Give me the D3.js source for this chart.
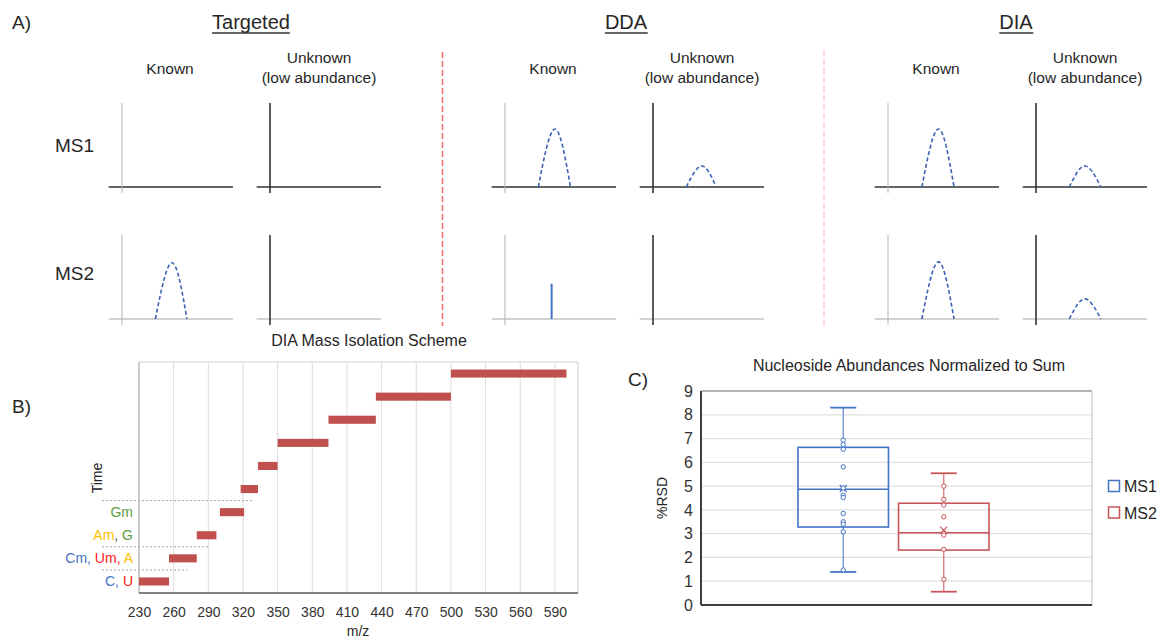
<!DOCTYPE html>
<html><head><meta charset="utf-8">
<script src="https://cdn.jsdelivr.net/npm/d3@7"></script>
<style>
body{margin:0;background:#fff}
svg{display:block}
text{font-family:"Liberation Sans",Arial,sans-serif;fill:#262626}
</style>
</head><body>
<svg id="chart" width="1160" height="641"></svg>
<script>
// ---------------- DATA ----------------
// Panel A: conceptual acquisition comparison
const methods = ["Targeted", "DDA", "DIA"];
const conditions = ["Known", "Unknown"];
const conditionLabels = [["Known"], ["Unknown", "(low abundance)"]];
const levels = ["MS1", "MS2"];
// peaks in arbitrary units (x: 0–10 m/z-like, y: 0–10 intensity)
const peaks = [
  {method: "DDA", level: "MS1", cond: "Known", start: 3.0, apex: 4.5, end: 5.9, height: 6.9},
  {method: "DDA", level: "MS1", cond: "Unknown", start: 3.0, apex: 4.4, end: 5.7, height: 2.5},
  {method: "DIA", level: "MS1", cond: "Known", start: 3.05, apex: 4.55, end: 5.95, height: 6.9},
  {method: "DIA", level: "MS1", cond: "Unknown", start: 3.0, apex: 4.4, end: 5.85, height: 2.5},
  {method: "Targeted", level: "MS2", cond: "Known", start: 3.0, apex: 4.5, end: 5.85, height: 6.7},
  {method: "DIA", level: "MS2", cond: "Known", start: 3.05, apex: 4.55, end: 5.95, height: 6.8},
  {method: "DIA", level: "MS2", cond: "Unknown", start: 3.0, apex: 4.4, end: 5.85, height: 2.4}
];
const sticks = [
  {method: "DDA", level: "MS2", cond: "Known", x: 4.2, height: 4.2}
];

// Panel B: DIA mass isolation scheme
const mzTicks = [230, 260, 290, 320, 350, 380, 410, 440, 470, 500, 530, 560, 590];
const isoStart = [230, 256, 280, 300, 318, 333, 350, 394, 435, 500];
const isoEnd   = [256, 280, 297, 321, 333, 350, 394, 435, 500, 600];
// elution-window labels: [text, nucleoside class]
const elutionLabels = [
  [["C", "C"], [", ", "C"], ["U", "U"]],
  [["Cm", "C"], [", ", "C"], ["Um", "U"], [", ", "U"], ["A", "A"]],
  [["Am", "A"], [", ", "-"], ["G", "G"]],
  [["Gm", "G"]]
];
const separatorAfter = [0, 1, 3];
const separatorEndMz = [272, 291, 328];

// Panel C: %RSD box plots
const groups = ["MS1", "MS2"];
const rsdTicks = [0, 1, 2, 3, 4, 5, 6, 7, 8, 9];
const ms1Values = [6.93, 6.75, 6.55, 5.81, 4.92, 4.62, 4.52, 3.85, 3.5, 3.4, 3.08, 1.47];
const ms2Values = [5.0, 4.44, 4.2, 3.71, 3.01, 2.94, 2.34, 1.08];
const ms1Stats = [1.39, 3.28, 4.87, 6.63, 8.30]; // min, q1, median, q3, max
const ms2Stats = [0.56, 2.31, 3.04, 4.28, 5.54];
const groupMeans = [4.9, 3.15];

// ---------------- DRAW ----------------
const svg = d3.select("#chart");

// ===== Panel A =====
const colX0 = [122, 270];     // vertical axis positions for Known / Unknown (Targeted)
const methodDX = 383;
const rowY0 = [187, 319];     // baseline positions for MS1 / MS2
const miniW = 111, miniH = 84;
const titleX = [251, 626, 1016];
const peakColor = "#3a62b5";

svg.append("text").attr("x", 12).attr("y", 29).style("font-size", "19px").text("A)");

methods.forEach((m, mi) => {
  const t = svg.append("text").attr("x", titleX[mi]).attr("y", 29)
    .attr("text-anchor", "middle").style("font-size", "20px").text(m);
  const bb = t.node().getBBox();
  svg.append("line").attr("x1", bb.x).attr("x2", bb.x + bb.width)
    .attr("y1", 33).attr("y2", 33).attr("stroke", "#333").attr("stroke-width", 1.5);

  conditions.forEach((c, ci) => {
    const ox = colX0[ci] + mi * methodDX;
    const lab = conditionLabels[ci];
    if (lab.length === 1) {
      svg.append("text").attr("x", ox + 48).attr("y", 74).attr("text-anchor", "middle")
        .style("font-size", "15.5px").text(lab[0]);
    } else {
      lab.forEach((l, li) => svg.append("text").attr("x", ox + 49).attr("y", 63 + li * 20)
        .attr("text-anchor", "middle").style("font-size", "15.5px").text(l));
    }

    levels.forEach((lv, li) => {
      const oy = rowY0[li];
      const x = d3.scaleLinear().domain([0, 10]).range([ox, ox + miniW]);
      const y = d3.scaleLinear().domain([0, 10]).range([oy, oy - miniH]);
      const g = svg.append("g");
      g.append("line").attr("x1", x(-1.2)).attr("x2", x(10)).attr("y1", y(0)).attr("y2", y(0))
        .attr("stroke", li === 0 ? "#333" : "#a6a6a6").attr("stroke-width", li === 0 ? 1.5 : 1);
      g.append("line").attr("x1", x(0)).attr("x2", x(0)).attr("y1", y(10)).attr("y2", y(-0.7))
        .attr("stroke", ci === 0 ? "#b3b3b3" : "#333").attr("stroke-width", ci === 0 ? 1 : 1.6);

      peaks.filter(p => p.method === m && p.level === lv && p.cond === c).forEach(p => {
        const line = d3.line().x(d => x(d[0])).y(d => y(d[1])).curve(d3.curveNatural);
        g.append("path").attr("d", line([[p.start, 0], [p.apex, p.height], [p.end, 0]]))
          .attr("fill", "none").attr("stroke", peakColor).attr("stroke-width", 1.6)
          .attr("stroke-dasharray", "4,2.5");
      });
      sticks.filter(s => s.method === m && s.level === lv && s.cond === c).forEach(s => {
        g.append("line").attr("x1", x(s.x)).attr("x2", x(s.x)).attr("y1", y(0)).attr("y2", y(s.height))
          .attr("stroke", "#4472c4").attr("stroke-width", 2);
      });
    });
  });
});

levels.forEach((lv, li) => {
  svg.append("text").attr("x", 55).attr("y", li === 0 ? 152 : 280).style("font-size", "19px").text(lv);
});

svg.append("line").attr("x1", 442.5).attr("x2", 442.5).attr("y1", 52).attr("y2", 326)
  .attr("stroke", "#ff6b6b").attr("stroke-width", 1.5).attr("stroke-dasharray", "6,3");
svg.append("line").attr("x1", 824).attr("x2", 824).attr("y1", 50).attr("y2", 326)
  .attr("stroke", "#ffc4c4").attr("stroke-width", 1.2).attr("stroke-dasharray", "6,3");

// ===== Panel B =====
const bL = 139, bR = 578, bT = 362, bB = 593;
const bx = d3.scaleLinear().domain([230, 610]).range([bL, bR]);
const by = d3.scaleBand().domain(d3.range(isoStart.length)).range([bB, bT])
  .paddingInner(0.65).paddingOuter(0.325);
const classColor = {C: "#4472c4", U: "#ff1a1a", A: "#ffc000", G: "#5e9e3e", "-": "#555"};

svg.append("text").attr("x", 12).attr("y", 413).style("font-size", "19px").text("B)");
svg.append("text").attr("x", 369).attr("y", 346).attr("text-anchor", "middle")
  .style("font-size", "16px").text("DIA Mass Isolation Scheme");

svg.append("g").selectAll("line").data(mzTicks.slice(1)).join("line")
  .attr("x1", d => bx(d)).attr("x2", d => bx(d)).attr("y1", bT).attr("y2", bB)
  .attr("stroke", "#dcdcdc").attr("stroke-width", 1);
svg.append("line").attr("x1", bL).attr("x2", bR).attr("y1", bT).attr("y2", bT).attr("stroke", "#d0d0d0");
svg.append("line").attr("x1", bR).attr("x2", bR).attr("y1", bT).attr("y2", bB).attr("stroke", "#d0d0d0");
svg.append("line").attr("x1", bL).attr("x2", bL).attr("y1", bT).attr("y2", bB).attr("stroke", "#bdbdbd").attr("stroke-width", 1.5);

const bAxis = svg.append("g").attr("transform", `translate(0,${bB})`)
  .call(d3.axisBottom(bx).tickValues(mzTicks).tickSize(0).tickPadding(14));
bAxis.select(".domain").remove();
bAxis.selectAll("text").style("font-size", "14px").style("fill", "#333")
  .style("font-family", '"Liberation Sans",Arial,sans-serif');
svg.append("line").attr("x1", bL).attr("x2", bR).attr("y1", bB).attr("y2", bB)
  .attr("stroke", "#595959").attr("stroke-width", 1.5);

svg.append("g").selectAll("rect").data(isoStart).join("rect")
  .attr("x", (d, i) => bx(d)).attr("width", (d, i) => bx(isoEnd[i]) - bx(d))
  .attr("y", (d, i) => by(i)).attr("height", by.bandwidth())
  .attr("fill", "#c0504d");

elutionLabels.forEach((parts, i) => {
  const t = svg.append("text").attr("x", bL - 6).attr("y", by(i) + by.bandwidth() / 2 + 5)
    .attr("text-anchor", "end").style("font-size", "14px");
  parts.forEach(p => t.append("tspan").text(p[0]).style("fill", classColor[p[1]]));
});

const step = by.step();
separatorAfter.forEach((b, k) => {
  const yy = by(b) - (step - by.bandwidth()) / 2;
  svg.append("line").attr("x1", bL - 37).attr("x2", bx(separatorEndMz[k]))
    .attr("y1", yy).attr("y2", yy).attr("stroke", "#a6a6a6").attr("stroke-width", 1)
    .attr("stroke-dasharray", "2,2");
});

svg.append("text").attr("transform", "translate(102,478) rotate(-90)").attr("text-anchor", "middle")
  .style("font-size", "14px").text("Time");
svg.append("text").attr("x", 358).attr("y", 636).attr("text-anchor", "middle")
  .style("font-size", "14px").text("m/z");

// ===== Panel C =====
const cL = 701, cR = 1092, cT = 391, cB = 605;
const cy = d3.scaleLinear().domain([0, 9]).range([cB, cT]);
const cx = d3.scaleBand().domain(groups).range([798, 989]).paddingInner(0.1);
const groupColor = {MS1: "#4472c4", MS2: "#c9555a"};
const groupValues = [ms1Values, ms2Values];
const groupStats = [ms1Stats, ms2Stats];

svg.append("text").attr("x", 628).attr("y", 386).style("font-size", "19px").text("C)");
svg.append("text").attr("x", 909).attr("y", 371).attr("text-anchor", "middle")
  .style("font-size", "16px").text("Nucleoside Abundances Normalized to Sum");

svg.append("g").selectAll("line").data(rsdTicks.slice(1, -1)).join("line")
  .attr("x1", cL).attr("x2", cR).attr("y1", d => cy(d)).attr("y2", d => cy(d))
  .attr("stroke", "#e0e0e0").attr("stroke-width", 1.2);
svg.append("line").attr("x1", cL).attr("x2", cR).attr("y1", cT).attr("y2", cT).attr("stroke", "#9a9a9a").attr("stroke-width", 1.5);
svg.append("line").attr("x1", cR).attr("x2", cR).attr("y1", cT).attr("y2", cB).attr("stroke", "#c8c8c8").attr("stroke-width", 1.2);

const cAxis = svg.append("g").attr("transform", `translate(${cL},0)`)
  .call(d3.axisLeft(cy).tickValues(rsdTicks).tickSize(0).tickPadding(8));
cAxis.select(".domain").remove();
cAxis.selectAll("text").style("font-size", "16px").style("fill", "#333")
  .style("font-family", '"Liberation Sans",Arial,sans-serif');
svg.append("line").attr("x1", cL).attr("x2", cL).attr("y1", cT).attr("y2", cB).attr("stroke", "#404040").attr("stroke-width", 2);
svg.append("line").attr("x1", cL).attr("x2", cR).attr("y1", cB).attr("y2", cB).attr("stroke", "#404040").attr("stroke-width", 2);

svg.append("text").attr("transform", "translate(667,498) rotate(-90)").attr("text-anchor", "middle")
  .style("font-size", "14px").text("%RSD");

groups.forEach((gname, gi) => {
  const col = groupColor[gname];
  const s = groupStats[gi];
  const x0 = cx(gname), bw = cx.bandwidth(), xc = x0 + bw / 2;
  const g = svg.append("g");
  g.append("line").attr("x1", xc).attr("x2", xc).attr("y1", cy(s[3])).attr("y2", cy(s[4]))
    .attr("stroke", col).attr("stroke-width", 1.2).attr("opacity", 0.85);
  g.append("line").attr("x1", xc).attr("x2", xc).attr("y1", cy(s[1])).attr("y2", cy(s[0]))
    .attr("stroke", col).attr("stroke-width", 1.2).attr("opacity", 0.85);
  [s[0], s[4]].forEach(v => g.append("line").attr("x1", xc - 13).attr("x2", xc + 13)
    .attr("y1", cy(v)).attr("y2", cy(v)).attr("stroke", col).attr("stroke-width", 1.8));
  g.append("rect").attr("x", x0).attr("width", bw).attr("y", cy(s[3])).attr("height", cy(s[1]) - cy(s[3]))
    .attr("fill", "none").attr("stroke", col).attr("stroke-width", 1.6);
  g.append("line").attr("x1", x0).attr("x2", x0 + bw).attr("y1", cy(s[2])).attr("y2", cy(s[2]))
    .attr("stroke", col).attr("stroke-width", 1.6);
  const my = cy(groupMeans[gi]);
  g.append("path").attr("d", `M${xc - 3.5},${my - 3.5}L${xc + 3.5},${my + 3.5}M${xc + 3.5},${my - 3.5}L${xc - 3.5},${my + 3.5}`)
    .attr("stroke", col).attr("stroke-width", 1.2);
  g.selectAll("circle").data(groupValues[gi]).join("circle")
    .attr("cx", xc).attr("cy", d => cy(d)).attr("r", 2.2)
    .attr("fill", "#fff").attr("stroke", col).attr("stroke-width", 1);
});

groups.forEach((gname, gi) => {
  const yc = 486 + gi * 26.5;
  svg.append("rect").attr("x", 1108.5).attr("y", yc - 5.5).attr("width", 11).attr("height", 11)
    .attr("fill", "#fff").attr("stroke", groupColor[gname]).attr("stroke-width", 1.5);
  svg.append("text").attr("x", 1124).attr("y", yc + 6).style("font-size", "16px").text(gname);
});
</script>
</body></html>
